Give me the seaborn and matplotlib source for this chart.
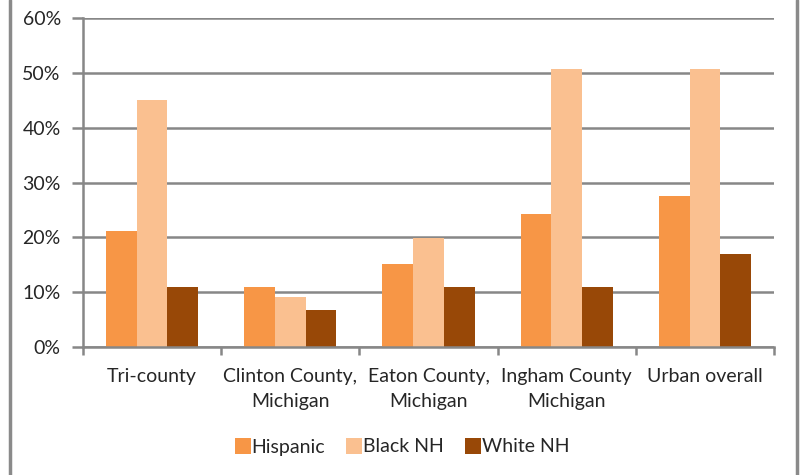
import matplotlib
matplotlib.use("Agg")
import matplotlib.pyplot as plt
import seaborn as sns
import pandas as pd
from matplotlib.lines import Line2D
from matplotlib.ticker import FixedLocator, PercentFormatter

categories = ["Tri-county", "Clinton County,\nMichigan", "Eaton County,\nMichigan",
              "Ingham County\nMichigan", "Urban overall"]
series = ["Hispanic", "Black NH", "White NH"]
hispanic = [21.2, 11.0, 15.2, 24.2, 27.5]
black_nh = [45.0, 9.2, 19.8, 50.7, 50.7]
white_nh = [11.0, 6.8, 11.0, 11.0, 17.0]
colors = ["#F79646", "#FAC090", "#984807"]
yticks = [0, 10, 20, 30, 40, 50, 60]

rows = []
for s, vals in zip(series, [hispanic, black_nh, white_nh]):
    for c, v in zip(categories, vals):
        rows.append({"category": c, "series": s, "value": v})
df = pd.DataFrame(rows)

sns.set_theme(style="white")
plt.rcParams["font.family"] = ["Lato", "DejaVu Sans"]

fig = plt.figure(figsize=(8.01, 4.75), dpi=100)
ax = fig.add_axes([83/801, 1-347/475, (774-83)/801, (347-18)/475])

sns.barplot(data=df, x="category", y="value", hue="series", order=categories,
            hue_order=series, palette=colors, width=0.667, saturation=1,
            linewidth=0, ax=ax, legend=False)

grid_c = "#878787"
fs = 14
ax.set_ylim(0, 60)
ax.set_xlim(-0.5, len(categories) - 0.5)
ax.set_yticks(yticks)
ax.yaxis.set_major_formatter(PercentFormatter(decimals=0))
ax.yaxis.grid(True, color=grid_c, linewidth=1.8)
ax.set_axisbelow(True)
ax.xaxis.set_major_locator(FixedLocator([i - 0.5 for i in range(len(categories) + 1)]))
ax.xaxis.set_minor_locator(FixedLocator(list(range(len(categories)))))
ax.set_xticklabels([])
ax.set_xticklabels(categories, minor=True)
ax.tick_params(axis="x", which="major", direction="out", length=6, width=1.8,
               color=grid_c, bottom=True)
ax.tick_params(axis="x", which="minor", length=0, pad=15, labelsize=fs)
ax.tick_params(axis="y", direction="out", length=8, width=1.8, color=grid_c,
               left=True, labelsize=fs, pad=8)
for lab in ax.get_xticklabels(minor=True):
    lab.set_linespacing(1.6)
ax.set_xlabel("")
ax.set_ylabel("")
for sp in ["top", "right"]:
    ax.spines[sp].set_visible(False)
for sp in ["left", "bottom"]:
    ax.spines[sp].set_color(grid_c)
    ax.spines[sp].set_linewidth(1.8)

handles = [Line2D([], [], marker="s", linestyle="none", markersize=11,
                  markerfacecolor=c, markeredgewidth=0) for c in colors]
fig.legend(handles, series, loc="center", bbox_to_anchor=(401/801, 1-447/475),
           ncol=3, frameon=False, fontsize=fs, handletextpad=-0.05,
           columnspacing=1.0, handlelength=1.0)

for x in [10, 797]:
    fig.add_artist(Line2D([x/801, x/801], [0, 1], color="#8a8a8a", linewidth=2.5,
                          transform=fig.transFigure))

fig.savefig("out.png", dpi=100)
